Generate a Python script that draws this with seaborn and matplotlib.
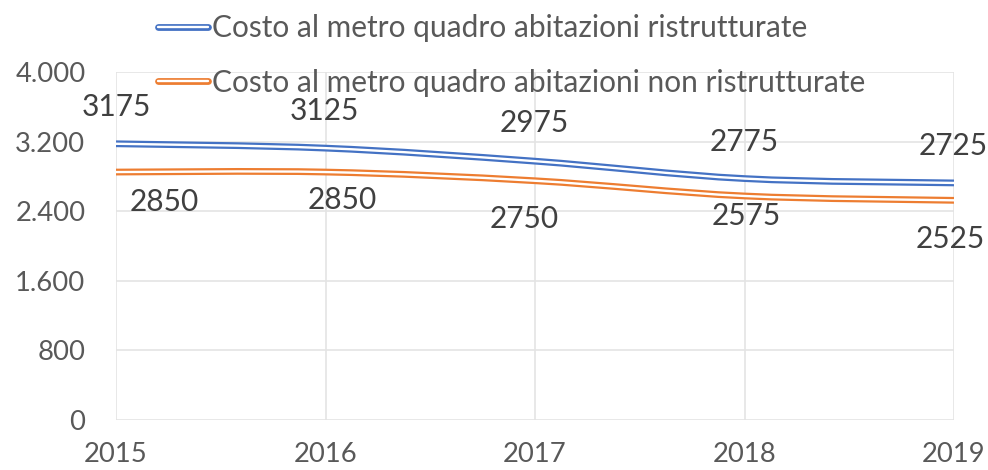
import matplotlib
matplotlib.use("Agg")
import matplotlib.pyplot as plt
import matplotlib.patheffects as pe
from matplotlib.path import Path
from matplotlib.patches import PathPatch
from matplotlib.lines import Line2D
import seaborn as sns

# ---- data ----
years = [2015, 2016, 2017, 2018, 2019]
ristrutturate = [3175, 3125, 2975, 2775, 2725]
non_ristrutturate = [2850, 2850, 2750, 2575, 2525]
label_ristr = "Costo al metro quadro abitazioni ristrutturate"
label_non_ristr = "Costo al metro quadro abitazioni non ristrutturate"
y_ticks = [0, 800, 1600, 2400, 3200, 4000]

BLUE = "#4472C4"
ORANGE = "#ED7D31"
TEXT = "#595959"
LABEL = "#404040"
GRID = "#E4E4E4"

sns.set_style("white")
plt.rcParams['font.family'] = ['Lato', 'DejaVu Sans']


def smooth_path(xs, ys):
    """Excel-like smoothed line as cubic Bezier path (Catmull-Rom)."""
    n = len(xs)
    verts = [(xs[0], ys[0])]
    codes = [Path.MOVETO]
    for i in range(n - 1):
        a = max(i - 1, 0)
        b = min(i + 2, n - 1)
        c1 = (xs[i] + (xs[i + 1] - xs[a]) / 6, ys[i] + (ys[i + 1] - ys[a]) / 6)
        c2 = (xs[i + 1] - (xs[b] - xs[i]) / 6, ys[i + 1] - (ys[b] - ys[i]) / 6)
        verts += [c1, c2, (xs[i + 1], ys[i + 1])]
        codes += [Path.CURVE4] * 3
    return Path(verts, codes)


def double_line(color):
    # coloured outer stroke with a white core -> Excel "double" line
    return [pe.Stroke(linewidth=4.9, foreground=color), pe.Normal()]


fig = plt.figure(figsize=(9.88, 4.70), dpi=100)
ax = fig.add_axes([116 / 988, 50 / 470, 838 / 988, 348 / 470])

for vals, color in [(ristrutturate, BLUE), (non_ristrutturate, ORANGE)]:
    patch = PathPatch(smooth_path(years, vals), fill=False, edgecolor="white",
                      linewidth=1.7, zorder=3)
    patch.set_path_effects(double_line(color))
    ax.add_patch(patch)

# data labels (offsets in pixels, as placed in the original)
blue_off = [(0, 37), (-1, 37), (-1, 38), (0, 37), (-1, 37)]
orange_off = [(48, -30), (17, -28), (-11, -38), (2, -20), (-4, -39)]
for x, v, off in zip(years, ristrutturate, blue_off):
    ax.annotate(str(v), (x, v), xytext=off, textcoords="offset pixels",
                ha="center", va="center", fontsize=21.5, color=LABEL,
                annotation_clip=False, zorder=4)
for x, v, off in zip(years, non_ristrutturate, orange_off):
    ax.annotate(str(v), (x, v), xytext=off, textcoords="offset pixels",
                ha="center", va="center", fontsize=21.5, color=LABEL,
                annotation_clip=False, zorder=4)

ax.set_xlim(2015, 2019)
ax.set_ylim(0, 4000)
ax.set_xticks(years)
ax.set_xticklabels([str(y) for y in years])
ax.set_yticks(y_ticks)
ax.set_yticklabels([f"{v:,}".replace(",", ".") for v in y_ticks])
ax.grid(True, color=GRID, linewidth=1.2)
ax.set_axisbelow(True)
for s in ax.spines.values():
    s.set_visible(False)
ax.tick_params(length=0, labelsize=19.7, colors=TEXT)
ax.tick_params(axis="x", pad=16)
ax.tick_params(axis="y", pad=22)

handles = [Line2D([], [], color="white", linewidth=1.7,
                  path_effects=double_line(c)) for c in (BLUE, ORANGE)]
fig.legend(handles, [label_ristr, label_non_ristr], loc="upper left",
           bbox_to_anchor=(158 / 988, 1 - 14 / 470), frameon=False,
           fontsize=21.5, handlelength=1.67, handletextpad=0.13,
           labelspacing=0.9, borderpad=0, borderaxespad=0, labelcolor=TEXT)

fig.savefig("out.png", dpi=100, facecolor="white")
